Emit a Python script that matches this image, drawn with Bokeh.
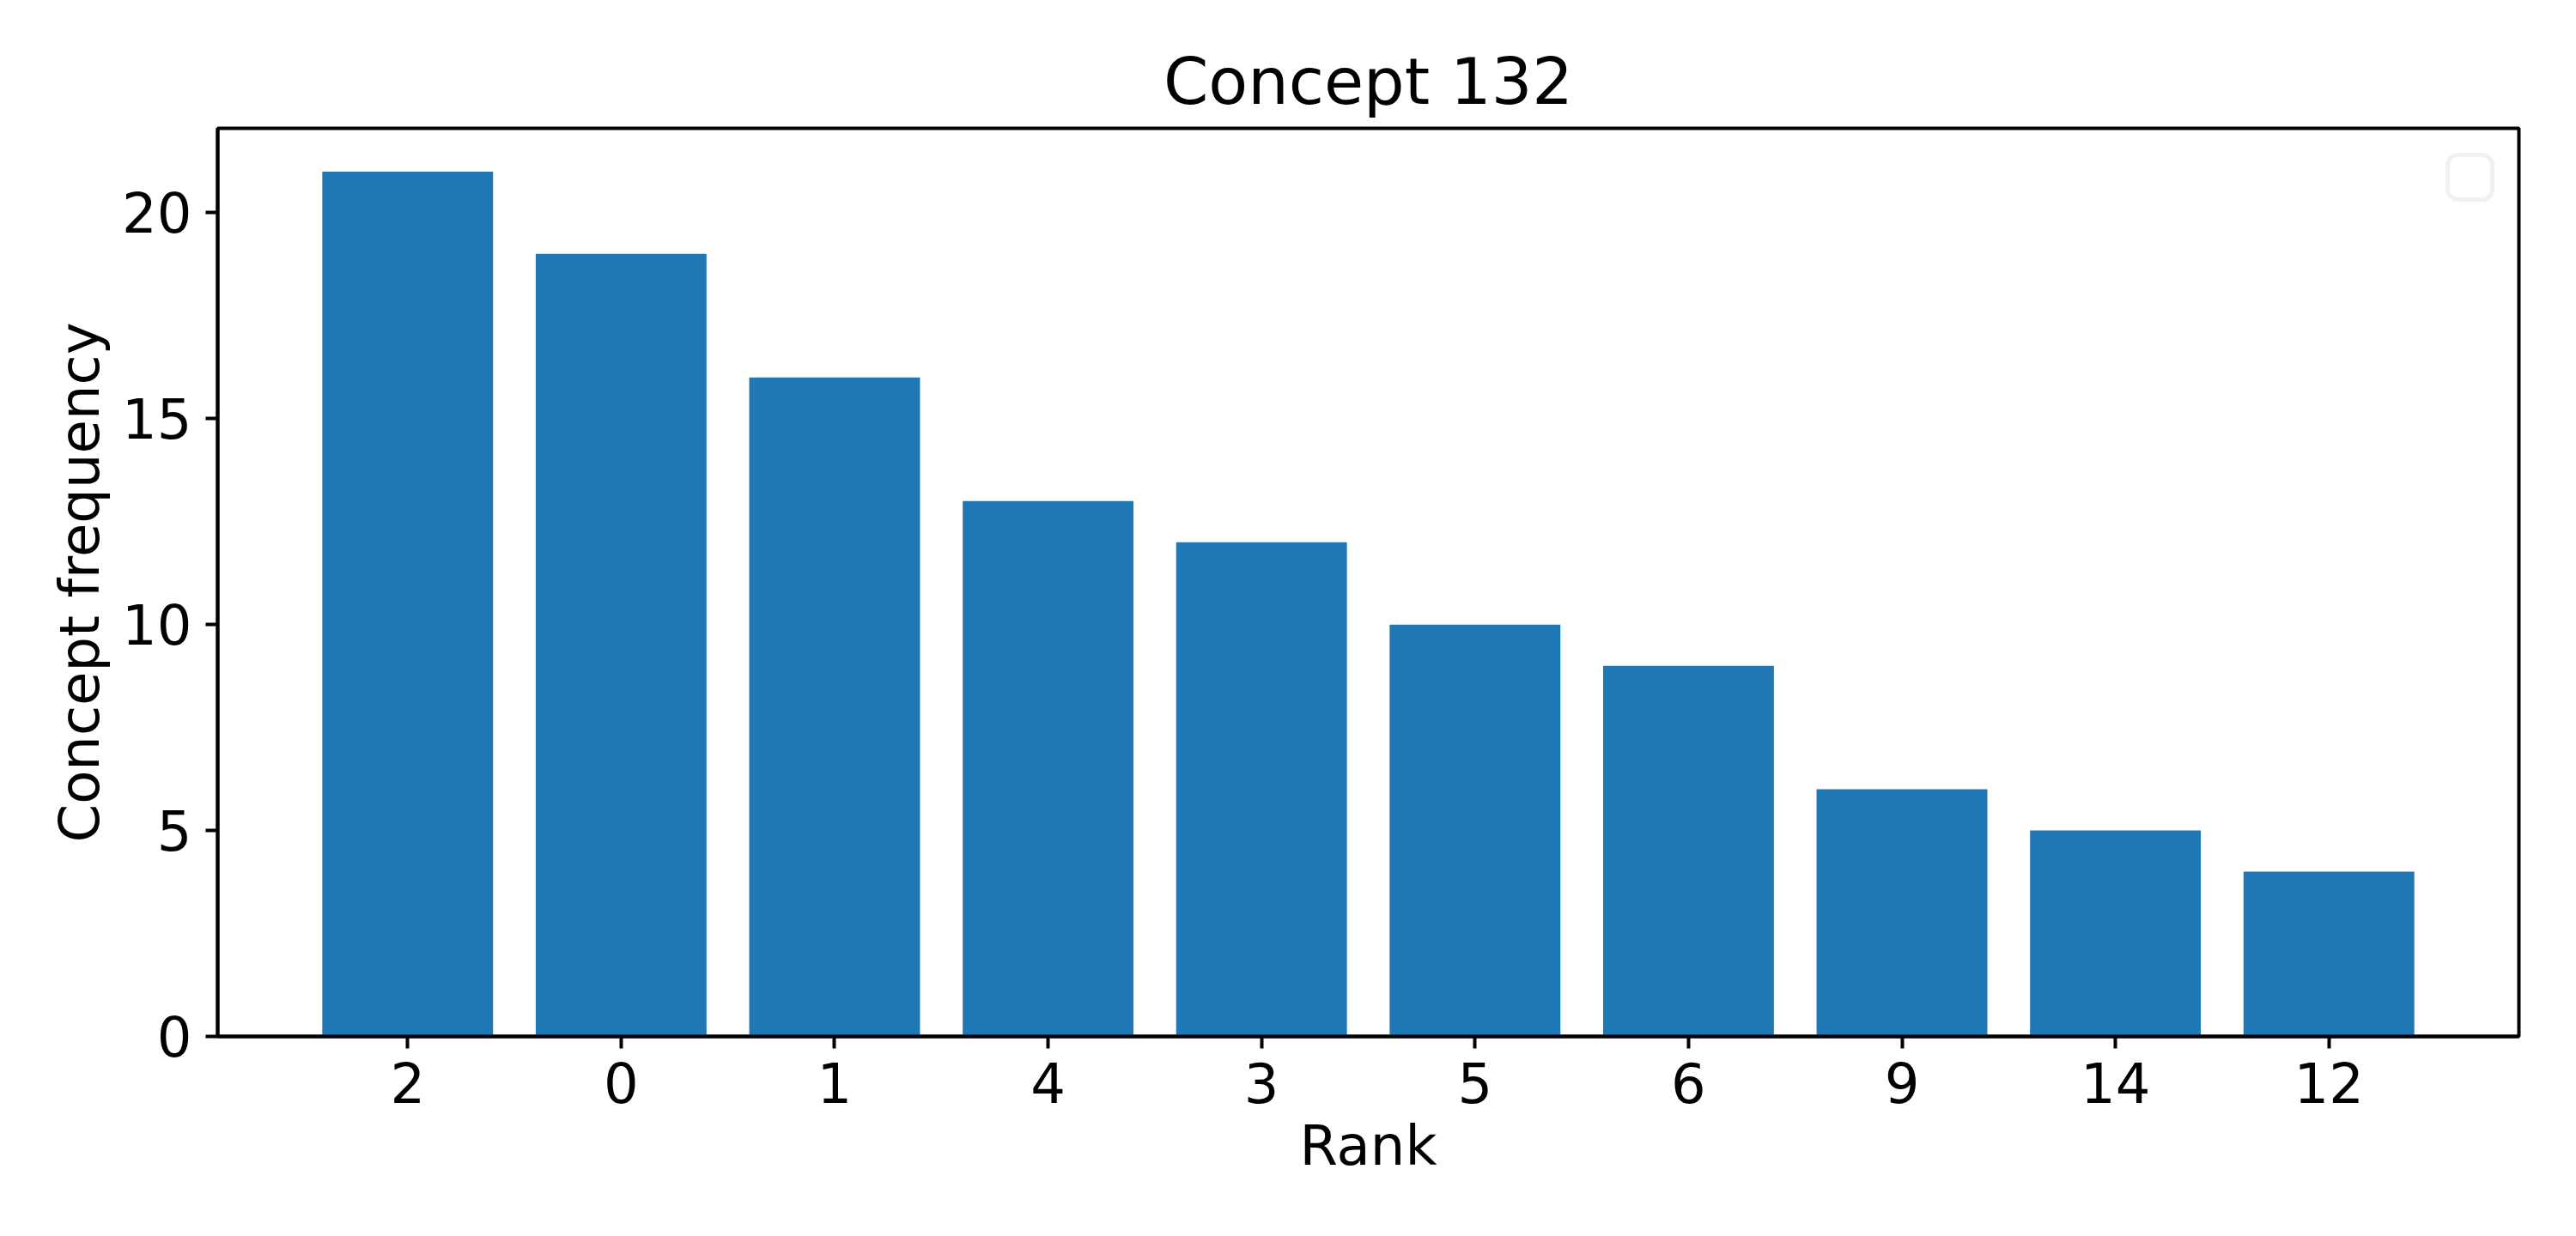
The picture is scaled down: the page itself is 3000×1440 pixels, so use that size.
from bokeh.plotting import figure
from bokeh.models import Range1d, FixedTicker, BoxAnnotation
from bokeh.embed import file_html
from bokeh.resources import INLINE

ranks = ["2", "0", "1", "4", "3", "5", "6", "9", "14", "12"]
frequencies = [21, 19, 16, 13, 12, 10, 9, 6, 5, 4]
y_ticks = [0, 5, 10, 15, 20]

positions = list(range(len(ranks)))
n = len(ranks)
bar_w = 0.8
pad = (n - 1 + bar_w) * 0.05
ymax = max(frequencies) * 1.05
x0, x1 = -bar_w / 2 - pad, n - 1 + bar_w / 2 + pad

FONT = "DejaVu Sans"
W, H = 2984, 1424
BL, BR, BT, BB = 253, 51, 149, 217
frame_w = W - BL - BR
frame_h = H - BT - BB

p = figure(width=W, height=H, output_backend="svg", toolbar_location=None,
           x_range=Range1d(x0, x1), y_range=Range1d(0, ymax),
           title="Concept 132", x_axis_label="Rank", y_axis_label="Concept frequency",
           min_border_left=BL, min_border_right=BR, min_border_top=BT, min_border_bottom=BB)

p.vbar(x=positions, top=frequencies, width=bar_w, bottom=0, color="#1f77b4", line_color=None)

p.grid.visible = False
p.outline_line_color = "black"
p.outline_line_width = 4
p.background_fill_color = "white"
p.border_fill_color = "white"

p.title.align = "center"
p.title.text_font = FONT
p.title.text_font_size = "75px"
p.title.text_font_style = "normal"
p.title.text_color = "black"
p.title.offset = 0
p.title.standoff = 22

p.xaxis.ticker = FixedTicker(ticks=positions)
p.xaxis.major_label_overrides = {i: r for i, r in zip(positions, ranks)}
p.yaxis.ticker = FixedTicker(ticks=y_ticks)

for ax in (p.xaxis[0], p.yaxis[0]):
    ax.axis_line_width = 4
    ax.axis_line_color = "black"
    ax.major_tick_line_width = 4
    ax.major_tick_out = 14
    ax.major_tick_in = 0
    ax.minor_tick_line_color = None
    ax.major_label_text_font = FONT
    ax.major_label_text_font_size = "64px"
    ax.major_label_text_color = "black"
    ax.axis_label_text_font = FONT
    ax.axis_label_text_font_size = "64px"
    ax.axis_label_text_font_style = "normal"
    ax.axis_label_text_color = "black"
    ax.major_label_standoff = 16

p.xaxis[0].axis_label_standoff = 10
p.yaxis[0].axis_label_standoff = 9

# empty legend frame (matplotlib draws an empty legend box), placed in pixels from the frame's top-right
dx = (x1 - x0) / frame_w
dy = ymax / frame_h
legend_box = BoxAnnotation(right=x1 - 31 * dx, left=x1 - 83 * dx,
                           top=ymax - 31 * dy, bottom=ymax - 83 * dy,
                           fill_color="white", fill_alpha=0.8,
                           line_color="#d0d0d0", line_width=5, border_radius=12)
p.add_layout(legend_box)

open("out.html", "w").write(file_html(p, INLINE))
